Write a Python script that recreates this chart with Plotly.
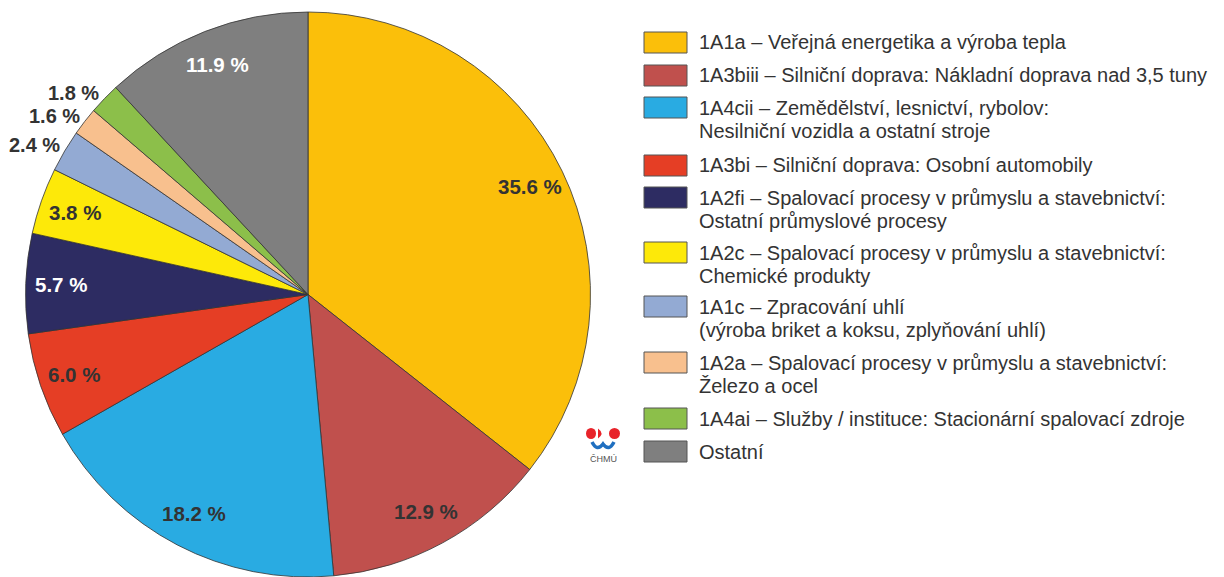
import math
import plotly.graph_objects as go

# ---- data ----
codes = ["1A1a", "1A3biii", "1A4cii", "1A3bi", "1A2fi", "1A2c", "1A1c", "1A2a", "1A4ai", "Ostatní"]
legend_labels = [
    "1A1a – Veřejná energetika a výroba tepla",
    "1A3biii – Silniční doprava: Nákladní doprava nad 3,5 tuny",
    "1A4cii – Zemědělství, lesnictví, rybolov:\nNesilniční vozidla a ostatní stroje",
    "1A3bi – Silniční doprava: Osobní automobily",
    "1A2fi – Spalovací procesy v průmyslu a stavebnictví:\nOstatní průmyslové procesy",
    "1A2c – Spalovací procesy v průmyslu a stavebnictví:\nChemické produkty",
    "1A1c – Zpracování uhlí\n(výroba briket a koksu, zplyňování uhlí)",
    "1A2a – Spalovací procesy v průmyslu a stavebnictví:\nŽelezo a ocel",
    "1A4ai – Služby / instituce: Stacionární spalovací zdroje",
    "Ostatní",
]
shares = [35.6, 12.9, 18.2, 6.0, 5.7, 3.8, 2.4, 1.6, 1.8, 11.9]

# ---- style ----
colors = ["#FBBF0A", "#C0504D", "#29ABE2", "#E53E25", "#2D2C62",
          "#FDE909", "#93AAD3", "#F8C08E", "#8CBF4A", "#7F7F7F"]
label_mode = ["in", "in", "in", "in", "in", "in", "out", "out", "out", "in"]
label_color = ["#333333", "#333333", "#333333", "#333333", "#FFFFFF",
               "#333333", "#333333", "#333333", "#333333", "#FFFFFF"]

# the page body has an 8 px margin; work in window pixels and convert
OFF = 8
W, H = 1224 - OFF, 577 - OFF
cx, cy, R = 308.0, 294.5, 282.5


def px(x):
    return (x - OFF) / W


def py(y):
    return 1 - (y - OFF) / H


fig = go.Figure()
fig.add_trace(go.Pie(
    labels=codes, values=shares, sort=False, direction="clockwise", rotation=0,
    marker=dict(colors=colors, line=dict(color="#333333", width=0.8)),
    textinfo="none", hoverinfo="label+value", showlegend=False,
    domain=dict(x=[px(cx - R), px(cx + R)], y=[0, py(cy - R)]),
))

annotations = []
shapes = []
total = sum(shares)
cum = 0.0
FONT = "Liberation Sans, Arial, sans-serif"
for v, mode, col in zip(shares, label_mode, label_color):
    m = (cum + v / 2) / total
    cum += v
    th = 2 * math.pi * m
    r = R * (0.875 if mode == "in" else 1.0)
    x = cx + r * math.sin(th)
    y = cy - r * math.cos(th)
    txt = f"<b>{v:.1f} %</b>"
    if mode == "in":
        annotations.append(dict(x=px(x), y=py(y), xref="paper", yref="paper", text=txt,
                                showarrow=False, xanchor="center", yanchor="middle",
                                font=dict(family=FONT, size=20.5, color=col)))
    else:
        annotations.append(dict(x=px(x - 3), y=py(y - 6), xref="paper", yref="paper", text=txt,
                                showarrow=False, xanchor="right", yanchor="middle",
                                font=dict(family=FONT, size=20, color=col)))

# legend (drawn manually)
row_tops = [32, 65, 97, 155, 187, 242, 296, 352, 408, 441]
sw_x0, sw_x1, sw_h = 644, 687, 21
text_x = 697
line_h = 23
for top, lab, col in zip(row_tops, legend_labels, colors):
    shapes.append(dict(type="rect", xref="paper", yref="paper",
                       x0=px(sw_x0), x1=px(sw_x1), y0=py(top), y1=py(top + sw_h),
                       fillcolor=col, line=dict(color="#555555", width=1)))
    for k, line in enumerate(lab.split("\n")):
        yc = top + sw_h / 2 + k * line_h
        annotations.append(dict(x=px(text_x), y=py(yc), xref="paper", yref="paper", text=line,
                                showarrow=False, xanchor="left", yanchor="middle",
                                font=dict(family=FONT, size=20, color="#333333")))

# logo ČHMÚ
red = "#E8232A"
blue = "#1F6FC0"
shapes += [
    dict(type="circle", xref="paper", yref="paper", x0=px(586), x1=px(596), y0=py(428), y1=py(439),
         fillcolor=red, line=dict(width=0)),
    dict(type="path", xref="paper", yref="paper",
         path=f"M {px(598)} {py(428.5)} Q {px(605)} {py(433.5)} {px(598)} {py(438.5)} Z",
         fillcolor=red, line=dict(width=0)),
    dict(type="circle", xref="paper", yref="paper", x0=px(609), x1=px(620), y0=py(428), y1=py(439),
         fillcolor=red, line=dict(width=0)),
    dict(type="path", xref="paper", yref="paper",
         path=(f"M {px(592)} {py(442)} Q {px(597)} {py(452)} {px(603)} {py(444)} "
               f"Q {px(609)} {py(452)} {px(614)} {py(442)}"),
         line=dict(color=blue, width=3.5)),
]
annotations.append(dict(x=px(603), y=py(459), xref="paper", yref="paper", text="ČHMÚ",
                        showarrow=False, xanchor="center", yanchor="middle",
                        font=dict(family=FONT, size=9, color="#555555")))

fig.update_layout(
    width=W, height=H, margin=dict(l=0, r=0, t=0, b=0),
    paper_bgcolor="white", plot_bgcolor="white",
    annotations=annotations, shapes=shapes,
)
fig.write_html("out.html")
